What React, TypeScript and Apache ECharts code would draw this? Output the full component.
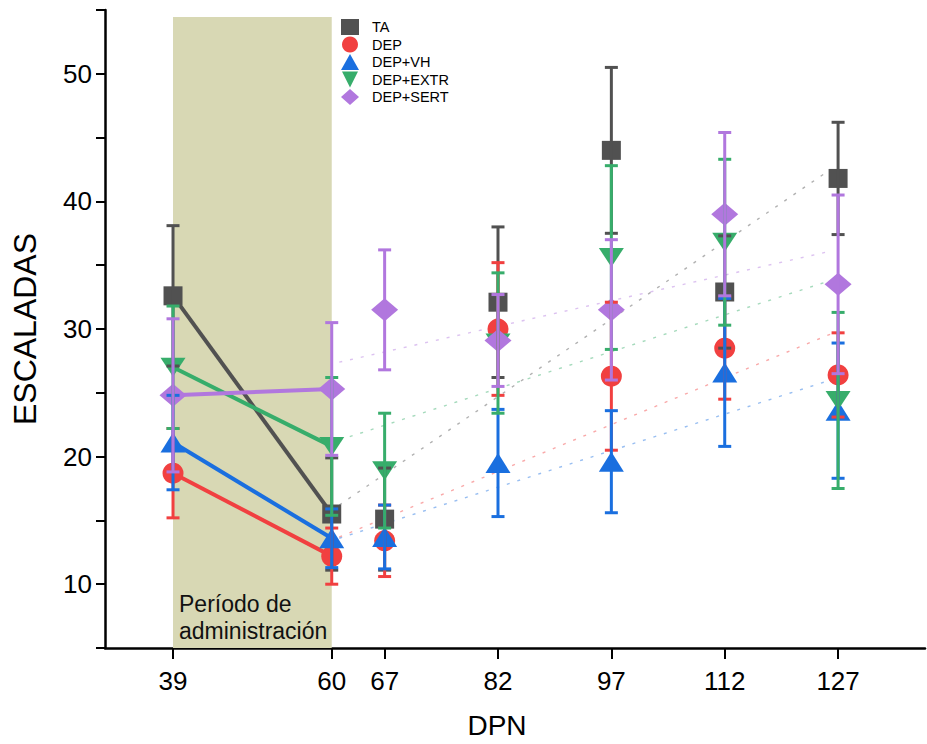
import React, { useEffect, useRef } from 'react';
import * as echarts from 'echarts';

// ---- data ----
const days = [39, 60, 67, 82, 97, 112, 127];
const tickDays = [39, 60, 67, 82, 97, 112, 127];
const seriesNames = ['TA', 'DEP', 'DEP+VH', 'DEP+EXTR', 'DEP+SERT'];

const taMean = [32.6, 15.5, 15.1, 32.1, 44.0, 32.9, 41.8];
const taErr = [5.5, 4.4, 4.0, 5.9, 6.5, 4.4, 4.4];
const depMean = [18.7, 12.2, 13.4, 30.0, 26.3, 28.5, 26.4];
const depErr = [3.5, 2.2, 2.8, 5.2, 5.8, 4.0, 3.3];
const vhMean = [21.1, 13.6, 13.7, 19.5, 19.6, 26.6, 23.6];
const vhErr = [3.7, 2.3, 2.5, 4.2, 4.0, 5.8, 5.3];
const extrMean = [27.0, 20.8, 18.9, 28.9, 35.6, 36.8, 24.4];
const extrErr = [4.8, 5.4, 4.5, 5.5, 7.2, 6.5, 6.9];
const sertMean = [24.8, 25.3, 31.5, 29.1, 31.5, 39.0, 33.5];
const sertErr = [6.0, 5.2, 4.7, 3.6, 5.5, 6.4, 7.0];

// faint trend lines (start / end day and values)
const trendX = [61, 126];
const taTrend = [16.2, 42.5];
const depTrend = [13.7, 29.6];
const vhTrend = [13.6, 26.0];
const extrTrend = [21.3, 33.8];
const sertTrend = [27.4, 36.1];

// administration period band
const bandDays = [39, 60];
const bandTop = 54.45;
const bandLabel = 'Período de\nadministración';

const yMin = 5;
const yMax = 55;
const yStep = 5;
const xMin = 30;
const xMax = 138.5;

// ---- styles ----
const colors = ['#515151', '#F14040', '#1A6FDF', '#37AD6B', '#B177DE'];
const symbols = [
  'rect',
  'circle',
  'triangle',
  'path://M0,0 L10,0 L5,10 Z',
  'diamond',
];
const symbolSizes: any[] = [19, 21, [25, 20], [25, 19], [27, 23]];
const legendIcons = ['rect', 'circle', 'triangle', 'path://M0,0 L10,0 L5,10 Z', 'diamond'];

const means = [taMean, depMean, vhMean, extrMean, sertMean];
const errs = [taErr, depErr, vhErr, extrErr, sertErr];
const trends = [taTrend, depTrend, vhTrend, extrTrend, sertTrend];

const FONT = '"Liberation Sans Narrow", "Liberation Sans", Arial, sans-serif';
const FONT_REG = '"Liberation Sans", Arial, sans-serif';

export default function App() {
  const ref = useRef<HTMLDivElement>(null);

  useEffect(() => {
    if (!ref.current) return;
    const chart = echarts.init(ref.current, null, { renderer: 'svg' });

    const series: any[] = [];

    // band
    series.push({
      type: 'custom',
      name: 'band',
      silent: true,
      z: 1,
      data: [[bandDays[0], bandDays[1], bandTop]],
      encode: { x: [0, 1], y: 2 },
      renderItem: (params: any, api: any) => {
        const p1 = api.coord([api.value(0), api.value(2)]);
        const p2 = api.coord([api.value(1), yMin]);
        return {
          type: 'group',
          children: [
            {
              type: 'rect',
              shape: { x: p1[0], y: p1[1], width: p2[0] - p1[0], height: p2[1] - p1[1] },
              style: { fill: '#d8d8b4' },
            },
            {
              type: 'text',
              x: p1[0] + 6,
              y: p2[1] - 4,
              style: {
                text: bandLabel,
                fill: '#111',
                fontSize: 23,
                fontFamily: FONT_REG,
                lineHeight: 27,
                align: 'left',
                verticalAlign: 'bottom',
              },
            },
          ],
        };
      },
    });

    // trend lines
    trends.forEach((t, i) => {
      series.push({
        type: 'line',
        name: seriesNames[i] + ' trend',
        silent: true,
        z: 2,
        showSymbol: false,
        symbol: 'none',
        data: [
          [trendX[0], t[0]],
          [trendX[1], t[1]],
        ],
        lineStyle: { color: colors[i], width: 1.4, opacity: 0.45, type: [3, 8] },
      });
    });

    // solid lines during administration (39 -> 60)
    means.forEach((m, i) => {
      series.push({
        type: 'line',
        name: seriesNames[i] + ' admin',
        silent: true,
        z: 3,
        showSymbol: false,
        symbol: 'none',
        data: [
          [days[0], m[0]],
          [days[1], m[1]],
        ],
        lineStyle: { color: colors[i], width: 4 },
      });
    });

    // markers
    means.forEach((m, i) => {
      series.push({
        type: 'scatter',
        name: seriesNames[i],
        silent: true,
        z: 4,
        symbol: symbols[i],
        symbolSize: symbolSizes[i],
        symbolKeepAspect: false,
        data: days.map((d, k) => [d, m[k]]),
        itemStyle: { color: colors[i], opacity: 1 },
      });
    });

    // error bars
    means.forEach((m, i) => {
      const color = colors[i];
      series.push({
        type: 'custom',
        name: seriesNames[i] + ' err',
        silent: true,
        z: 5,
        data: days.map((d, k) => [d, m[k], errs[i][k]]),
        encode: { x: 0, y: 1 },
        renderItem: (params: any, api: any) => {
          const x = api.value(0);
          const v = api.value(1);
          const e = api.value(2);
          const top = api.coord([x, v + e]);
          const bot = api.coord([x, v - e]);
          const hw = 6.5;
          const st = { stroke: color, lineWidth: 3 };
          return {
            type: 'group',
            children: [
              { type: 'line', shape: { x1: top[0], y1: top[1], x2: bot[0], y2: bot[1] }, style: st },
              { type: 'line', shape: { x1: top[0] - hw, y1: top[1], x2: top[0] + hw, y2: top[1] }, style: st },
              { type: 'line', shape: { x1: bot[0] - hw, y1: bot[1], x2: bot[0] + hw, y2: bot[1] }, style: st },
            ],
          };
        },
      });
    });

    const option: any = {
      animation: false,
      backgroundColor: '#ffffff',
      grid: {
        left: 105,
        right: 2,
        top: 10,
        bottom: 96,
        containLabel: false,
        outerBoundsMode: 'none',
      },
      legend: {
        show: true,
        orient: 'vertical',
        left: 341,
        top: 19,
        itemWidth: 18,
        itemHeight: 16,
        itemGap: 1.5,
        selectedMode: false,
        padding: 0,
        textStyle: {
          fontSize: 14.5,
          fontFamily: FONT_REG,
          color: '#000',
          lineHeight: 16,
          padding: [0, 0, 0, 8],
        },
        data: seriesNames.map((n, i) => ({ name: n, icon: legendIcons[i] })),
      },
      xAxis: {
        type: 'value',
        min: xMin,
        max: xMax,
        name: 'DPN',
        nameLocation: 'middle',
        nameGap: 63,
        nameMoveOverlap: false,
        nameTextStyle: {
          fontSize: 28,
          fontFamily: FONT_REG,
          color: '#000',
          padding: [0, 36, 0, 0],
        },
        splitLine: { show: false },
        axisLine: { show: true, onZero: false, lineStyle: { color: '#000', width: 2.5 } },
        axisTick: {
          show: true,
          inside: false,
          length: 11,
          lineStyle: { color: '#000', width: 2 },
          customValues: tickDays,
        },
        axisLabel: {
          show: true,
          margin: 20,
          fontSize: 26,
          fontFamily: FONT,
          color: '#000',
          customValues: tickDays,
          formatter: (v: number) => String(v),
        },
      },
      yAxis: {
        type: 'value',
        min: yMin,
        max: yMax,
        interval: yStep,
        name: 'ESCALADAS',
        nameLocation: 'middle',
        nameGap: 64,
        nameRotate: 90,
        nameMoveOverlap: false,
        nameTextStyle: { fontSize: 32, fontFamily: FONT, color: '#000' },
        splitLine: { show: false },
        axisLine: { show: true, onZero: false, lineStyle: { color: '#000', width: 2.5 } },
        axisTick: { show: true, inside: false, length: 9, lineStyle: { color: '#000', width: 2 } },
        axisLabel: {
          show: true,
          margin: 13,
          fontSize: 26,
          fontFamily: FONT,
          color: '#000',
          formatter: (v: number) => (v % 10 === 0 ? String(v) : ''),
        },
      },
      series,
    };

    chart.setOption(option);
    return () => {
      chart.dispose();
    };
  }, []);

  return (
    <div
      ref={ref}
      style={{ position: 'fixed', left: 0, top: 0, width: 927, height: 744, background: '#fff' }}
    />
  );
}
